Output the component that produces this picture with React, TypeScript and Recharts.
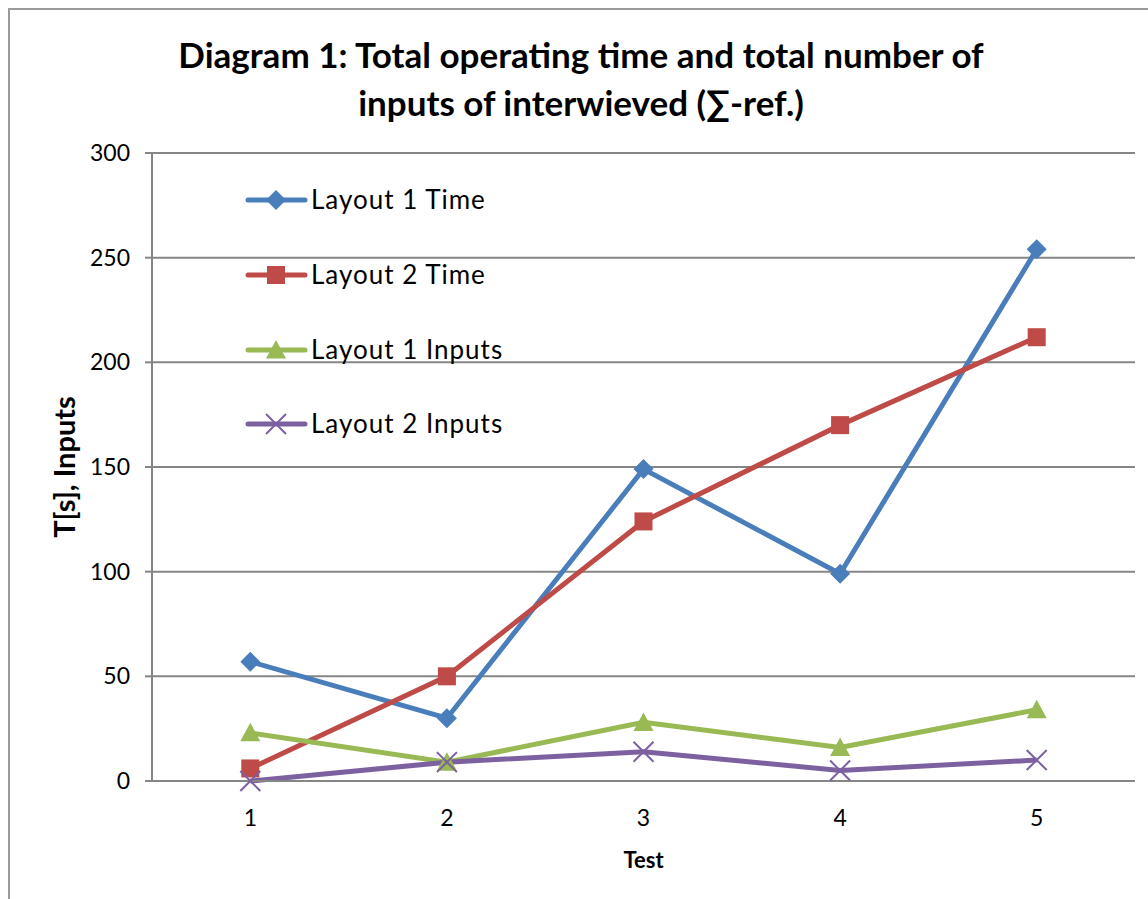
import React from "react";
import { LineChart, Line, XAxis, YAxis, CartesianGrid } from "recharts";

const categories = ["1", "2", "3", "4", "5"];
const layout1Time = [57, 30, 149, 99, 254];
const layout2Time = [6, 50, 124, 170, 212];
const layout1Inputs = [23, 9, 28, 16, 34];
const layout2Inputs = [0, 9, 14, 5, 10];
const yTicks = [0, 50, 100, 150, 200, 250, 300];

const seriesNames = ["Layout 1 Time", "Layout 2 Time", "Layout 1 Inputs", "Layout 2 Inputs"];
const colors = ["#4A7EBB", "#BE4B48", "#98B954", "#7D60A0"];
const shapes = ["diamond", "square", "triangle", "x"];

const data = categories.map((c, i) => ({
  test: c,
  l1t: layout1Time[i],
  l2t: layout2Time[i],
  l1i: layout1Inputs[i],
  l2i: layout2Inputs[i],
}));

const FONT = "Lato, 'Open Sans', sans-serif";

function Marker({ cx, cy, shape, color }: any) {
  if (cx == null || cy == null) return null;
  if (shape === "diamond") {
    const r = 10;
    return <path d={`M${cx},${cy - r} L${cx + r},${cy} L${cx},${cy + r} L${cx - r},${cy} Z`} fill={color} />;
  }
  if (shape === "square") {
    const r = 9;
    return <rect x={cx - r} y={cy - r} width={2 * r} height={2 * r} fill={color} />;
  }
  if (shape === "triangle") {
    const r = 10;
    return <path d={`M${cx},${cy - r} L${cx + r},${cy + r * 0.85} L${cx - r},${cy + r * 0.85} Z`} fill={color} />;
  }
  const r = 10;
  return (
    <path
      d={`M${cx - r},${cy - r} L${cx + r},${cy + r} M${cx - r},${cy + r} L${cx + r},${cy - r}`}
      stroke={color}
      strokeWidth={2}
      fill="none"
    />
  );
}

const makeDot = (i: number) => (props: any) => (
  <Marker key={`${i}-${props.index}`} cx={props.cx} cy={props.cy} shape={shapes[i]} color={colors[i]} />
);

function LegendContent() {
  const ys = [200, 275, 350, 424];
  return (
    <svg width={320} height={260} style={{ position: "absolute", left: 240, top: 170, overflow: "visible" }}>
      {seriesNames.map((n, i) => {
        const y = ys[i] - 170;
        return (
          <g key={n}>
            <line x1={8} x2={65} y1={y} y2={y} stroke={colors[i]} strokeWidth={5} strokeLinecap="round" />
            <Marker cx={36} cy={y} shape={shapes[i]} color={colors[i]} />
            <text x={71} y={y} dy="0.36em" fontSize={26} letterSpacing={1} fontFamily={FONT} fill="#000">
              {n}
            </text>
          </g>
        );
      })}
    </svg>
  );
}

export default function App() {
  const keys = ["l1t", "l2t", "l1i", "l2i"];
  return (
    <div style={{ position: "absolute", left: 0, top: 0, width: 1148, height: 899, background: "#fff", overflow: "hidden" }}>
      <div
        style={{
          position: "absolute",
          left: 8,
          top: 8,
          width: 1200,
          height: 1000,
          borderLeft: "2px solid #9a9a9a",
          borderTop: "2px solid #9a9a9a",
        }}
      />
      <div
        style={{
          position: "absolute",
          left: 0,
          top: 30,
          width: 1162,
          textAlign: "center",
          fontFamily: FONT,
          fontWeight: 700,
          fontSize: 35,
          lineHeight: "48px",
          color: "#000",
        }}
      >
        Diagram 1: Total operating time and total number of
        <br />
        inputs of interwieved (∑-ref.)
      </div>
      <div style={{ position: "absolute", left: 0, top: 0 }}>
        <LineChart width={1148} height={899} data={data} margin={{ top: 153, right: 13, bottom: 18, left: 0 }}>
          <CartesianGrid vertical={false} stroke="#868686" strokeWidth={2} />
          <XAxis
            dataKey="test"
            scale="band"
            stroke="#868686"
            strokeWidth={2}
            tickLine={false}
            tickSize={0}
            tickMargin={29}
            height={100}
            tick={{ fill: "#000", fontSize: 23, fontFamily: FONT }}
            label={{ value: "Test", position: "insideBottom", offset: 13, fill: "#000", fontSize: 22, fontWeight: 700, fontFamily: FONT }}
          />
          <YAxis
            domain={[0, 300]}
            ticks={yTicks}
            width={152}
            stroke="#868686"
            strokeWidth={2}
            tickSize={7}
            tickMargin={15}
            tick={{ fill: "#000", fontSize: 23, fontFamily: FONT }}
            label={{
              value: "T[s], Inputs",
              angle: -90,
              position: "insideLeft",
              offset: 65,
              style: { textAnchor: "middle" },
              fill: "#000",
              fontSize: 29,
              fontWeight: 700,
              fontFamily: FONT,
            }}
          />
          {keys.map((k, i) => (
            <Line
              key={k}
              dataKey={k}
              name={seriesNames[i]}
              stroke={colors[i]}
              strokeWidth={5}
              isAnimationActive={false}
              dot={makeDot(i)}
              activeDot={false}
            />
          ))}
        </LineChart>
      </div>
      <LegendContent />
    </div>
  );
}
